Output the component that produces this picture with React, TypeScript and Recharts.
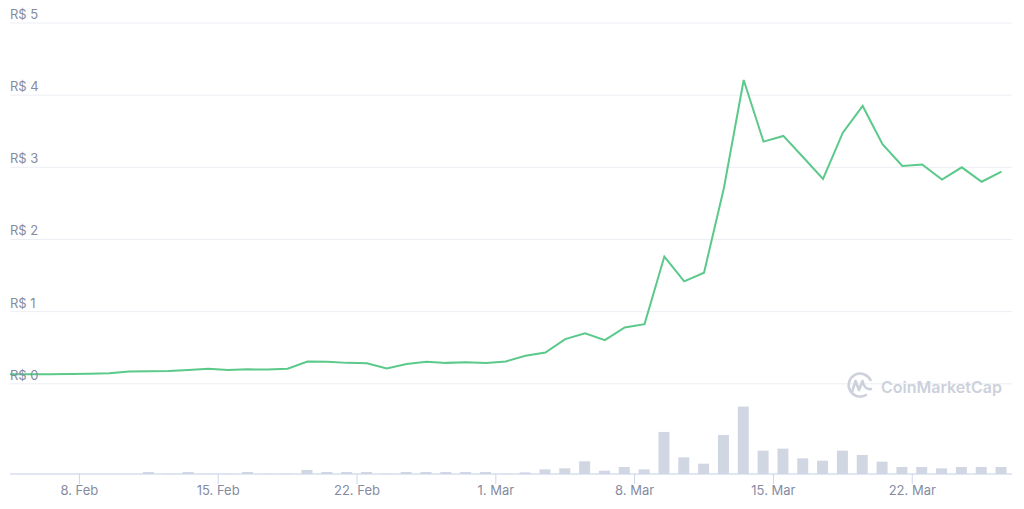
import React from 'react';
import { ComposedChart, Line, Bar, XAxis, YAxis, CartesianGrid } from 'recharts';

// Dates (UTC noon) of each daily point
const dates: string[] = [
  '2021-02-04', '2021-02-05', '2021-02-06', '2021-02-07', '2021-02-08', '2021-02-09', '2021-02-10',
  '2021-02-11', '2021-02-12', '2021-02-13', '2021-02-14', '2021-02-15', '2021-02-16', '2021-02-17',
  '2021-02-18', '2021-02-19', '2021-02-20', '2021-02-21', '2021-02-22', '2021-02-23', '2021-02-24',
  '2021-02-25', '2021-02-26', '2021-02-27', '2021-02-28', '2021-03-01', '2021-03-02', '2021-03-03',
  '2021-03-04', '2021-03-05', '2021-03-06', '2021-03-07', '2021-03-08', '2021-03-09', '2021-03-10',
  '2021-03-11', '2021-03-12', '2021-03-13', '2021-03-14', '2021-03-15', '2021-03-16', '2021-03-17',
  '2021-03-18', '2021-03-19', '2021-03-20', '2021-03-21', '2021-03-22', '2021-03-23', '2021-03-24',
  '2021-03-25', '2021-03-26',
];

// Price in R$
const prices: number[] = [
  0.134, 0.134, 0.134, 0.135, 0.14, 0.145, 0.17,
  0.173, 0.176, 0.19, 0.208, 0.19, 0.2, 0.198,
  0.208, 0.309, 0.305, 0.29, 0.284, 0.212, 0.273,
  0.305, 0.29, 0.3, 0.287, 0.31, 0.388, 0.434,
  0.62, 0.7, 0.605, 0.78, 0.827, 1.763, 1.42,
  1.54, 2.71, 4.21, 3.356, 3.435, 3.14, 2.84,
  3.48, 3.85, 3.32, 3.02, 3.04, 2.83, 3.0,
  2.8, 2.94,
];

// Volume (R$ millions)
const volumes: number[] = [
  0.01, 0.01, 0.01, 0.01, 0.01, 0.01, 0.01,
  0.2, 0.03, 0.2, 0.03, 0.03, 0.2, 0.03,
  0.03, 0.4, 0.2, 0.2, 0.2, 0.03, 0.2,
  0.2, 0.2, 0.2, 0.2, 0.03, 0.16, 0.46,
  0.57, 1.27, 0.33, 0.7, 0.46, 4.2, 1.66,
  1.03, 3.9, 6.73, 2.33, 2.53, 1.56, 1.33,
  2.33, 1.9, 1.23, 0.7, 0.7, 0.56, 0.7,
  0.7, 0.7,
];

const tickDates: string[] = ['2021-02-08', '2021-02-15', '2021-02-22', '2021-03-01', '2021-03-08', '2021-03-15', '2021-03-22'];
const tickLabels: string[] = ['8. Feb', '15. Feb', '22. Feb', '1. Mar', '8. Mar', '15. Mar', '22. Mar'];
const priceTicks: number[] = [0, 1, 2, 3, 4, 5];

const toMs = (d: string, hour: number) => Date.parse(d + 'T00:00:00Z') + hour * 3600000;

const data = dates.map((d, i) => ({ t: toMs(d, 12), price: prices[i], volume: volumes[i] }));
const xTicks = tickDates.map((d) => toMs(d, 0));
const xDomain = [toMs('2021-02-04', 12), toMs('2021-03-27', 0.75)];

const labelColor = '#858ca2';
const font = 'Inter, "Open Sans", sans-serif';

const renderPriceTick = (props: any) => {
  const { y, payload } = props;
  return (
    <text x={10} y={y - 4} fill={labelColor} fontSize={13} fontFamily={font} textAnchor="start">
      {`R$ ${payload.value}`}
    </text>
  );
};

export default function App() {
  return (
    <div style={{ position: 'absolute', left: 0, top: 0, width: 1024, height: 509, background: '#fff' }}>
      <ComposedChart width={1024} height={509} data={data} margin={{ top: 23, right: 12, bottom: 0, left: 10 }}>
        <CartesianGrid yAxisId="price" vertical={false} stroke="#eceef4" strokeWidth={1} />
        <XAxis
          dataKey="t"
          type="number"
          domain={xDomain}
          allowDataOverflow
          ticks={xTicks}
          interval={0}
          tickFormatter={(v: number) => tickLabels[xTicks.indexOf(v)] ?? ''}
          axisLine={{ stroke: '#ccd6eb' }}
          tickLine={{ stroke: '#ccd6eb' }}
          tickSize={10}
          height={35}
          tick={{ fill: labelColor, fontSize: 13, fontFamily: font }}
        />
        <YAxis
          yAxisId="price"
          domain={[-1.25, 5]}
          allowDataOverflow
          ticks={priceTicks}
          interval={0}
          mirror
          width={40}
          axisLine={false}
          tickLine={false}
          tick={renderPriceTick}
        />
        <YAxis yAxisId="vol" orientation="right" domain={[0, 45]} allowDataOverflow hide />
        <Bar yAxisId="vol" dataKey="volume" fill="#d1d6e3" barSize={11} isAnimationActive={false} />
        <Line
          yAxisId="price"
          dataKey="price"
          type="linear"
          stroke="#5ac98a"
          strokeWidth={2}
          dot={false}
          activeDot={false}
          isAnimationActive={false}
        />
      </ComposedChart>
      <svg
        width={1024}
        height={509}
        style={{ position: 'absolute', left: 0, top: 0, pointerEvents: 'none' }}
      >
        <g stroke="#cdd1dc" strokeWidth={2.6} fill="none" strokeLinecap="round" strokeLinejoin="round">
          <path d="M 870.5 380 A 11.5 11.5 0 1 0 866 395" />
          <path d="M 852 392 L 855.5 381 L 859 390 L 862.5 381 Q 864.5 390 871 389" />
        </g>
        <text x={881} y={393} fill="#cdd1dc" fontSize={16} fontWeight={600} fontFamily={font}>
          CoinMarketCap
        </text>
      </svg>
    </div>
  );
}
